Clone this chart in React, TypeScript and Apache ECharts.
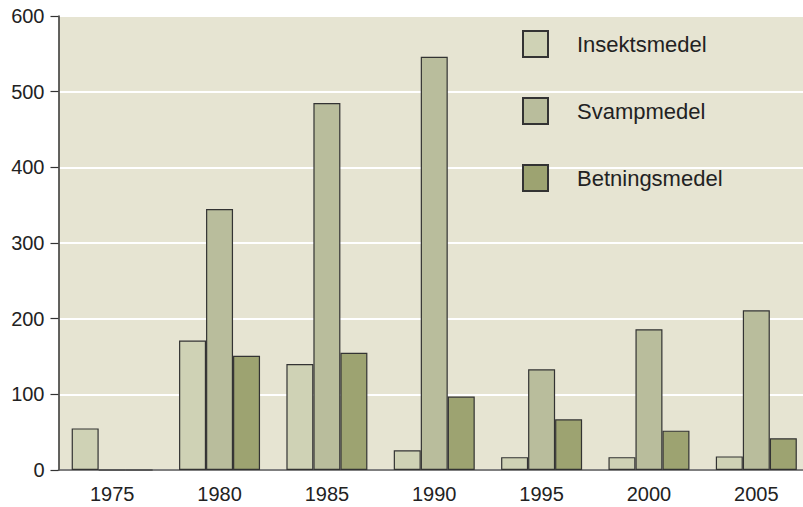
import React, { useEffect, useRef } from "react";
import * as echarts from "echarts";

const years = ["1975", "1980", "1985", "1990", "1995", "2000", "2005"];
const insektsmedel = [55, 171, 140, 26, 17, 17, 18];
const svampmedel = [0, 345, 485, 546, 133, 186, 211];
const betningsmedel = [0, 151, 155, 97, 67, 52, 42];
const seriesNames = ["Insektsmedel", "Svampmedel", "Betningsmedel"];
const colors = ["#cfd2b5", "#b9bd9c", "#9da371"];

export default function App() {
  const ref = useRef<HTMLDivElement>(null);
  useEffect(() => {
    if (!ref.current) return;
    const chart = echarts.init(ref.current, undefined, { renderer: "svg" });
    const font = "'Liberation Sans', Arial, sans-serif";
    const data = [insektsmedel, svampmedel, betningsmedel];
    chart.setOption({
      animation: false,
      textStyle: { fontFamily: font },
      grid: {
        left: 58.5,
        right: 0,
        top: 16,
        bottom: 37,
        show: true,
        backgroundColor: "#e6e4d2",
        borderWidth: 0,
      },
      legend: {
        orient: "vertical",
        left: 522,
        top: 30,
        padding: 0,
        itemWidth: 25,
        itemHeight: 26,
        itemGap: 39,
        icon: "rect",
        textStyle: { fontSize: 22, color: "#222", fontFamily: font, padding: [0, 0, 0, 24] },
        data: seriesNames,
      },
      xAxis: {
        type: "category",
        data: years,
        axisTick: { show: false },
        axisLine: { lineStyle: { color: "#555", width: 1.5 } },
        axisLabel: { fontSize: 20, color: "#222", margin: 14, fontFamily: font },
      },
      yAxis: {
        type: "value",
        min: 0,
        max: 600,
        interval: 100,
        axisLine: { show: true, lineStyle: { color: "#333", width: 1.5 } },
        axisTick: { show: true, length: 8, lineStyle: { color: "#333", width: 1.2 } },
        axisLabel: { fontSize: 20, color: "#222", margin: 14, fontFamily: font },
        splitLine: { lineStyle: { color: "#ffffff", width: 2 } },
      },
      series: seriesNames.map((name, i) => ({
        name,
        type: "bar",
        data: data[i],
        barWidth: 27,
        barGap: "0%",
        itemStyle: { color: colors[i], borderColor: "#333", borderWidth: 1.2 },
      })),
    });
    return () => chart.dispose();
  }, []);
  return (
    <div style={{ position: "absolute", left: 0, top: 0, width: 803, height: 507, overflow: "hidden", background: "#fff" }}>
      <div ref={ref} style={{ width: 810, height: 507 }} />
    </div>
  );
}
